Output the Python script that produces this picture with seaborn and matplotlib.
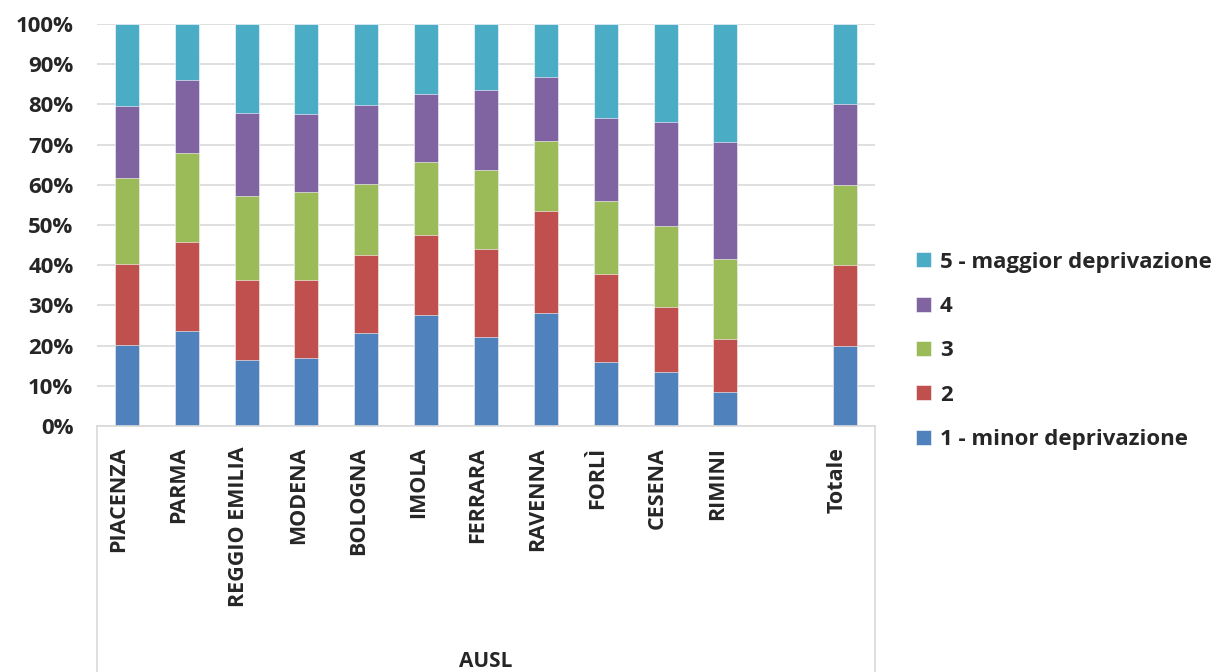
import matplotlib
matplotlib.use("Agg")
import matplotlib.pyplot as plt
from matplotlib.lines import Line2D
from matplotlib.ticker import PercentFormatter, MultipleLocator
from matplotlib.transforms import ScaledTranslation
import numpy as np
import pandas as pd
import seaborn as sns

# AUSL areas (plus overall total), with an empty slot before "Totale"
areas = ["PIACENZA", "PARMA", "REGGIO EMILIA", "MODENA", "BOLOGNA", "IMOLA",
         "FERRARA", "RAVENNA", "FORLÌ", "CESENA", "RIMINI", "Totale"]
slot_order = areas[:-1] + [" "] + ["Totale"]

# Share of population (%) in each deprivation quintile
q1 = [20.1, 23.7, 16.3, 17.0, 23.1, 27.6, 22.2, 28.2, 15.8, 13.4, 8.4, 20.0]
q2 = [20.2, 22.1, 19.9, 19.4, 19.4, 20.0, 21.8, 25.2, 22.1, 16.1, 13.2, 20.0]
q3 = [21.3, 22.2, 21.1, 21.9, 17.8, 18.0, 19.7, 17.6, 18.0, 20.3, 19.9, 20.0]
q4 = [18.0, 18.1, 20.5, 19.2, 19.6, 17.1, 19.9, 15.7, 20.6, 25.9, 29.2, 20.0]
q5 = [20.4, 13.9, 22.2, 22.5, 20.1, 17.3, 16.4, 13.3, 23.5, 24.3, 29.3, 20.0]

quintile_labels = ["1 - minor deprivazione", "2", "3", "4", "5 - maggior deprivazione"]
quintile_colors = ["#4F81BD", "#C0504D", "#9BBB59", "#8064A2", "#4BACC6"]

sns.set_theme(style="white")
plt.rcParams["font.family"] = ["Open Sans", "DejaVu Sans"]

shares = np.array([q1, q2, q3, q4, q5])
totals = shares.sum(axis=0)
cum = np.cumsum(shares / totals * 100.0, axis=0)

df = pd.DataFrame({"AUSL": areas})
for i in range(5):
    df[f"c{i}"] = cum[i]

fig = plt.figure(figsize=(12.13, 6.72), dpi=100)
ax = fig.add_axes([97 / 1213, 1 - 426 / 672, (875 - 97) / 1213, (426 - 24) / 672])

# Stack by overlaying cumulative bars, tallest first
for i in range(4, -1, -1):
    sns.barplot(data=df, x="AUSL", y=f"c{i}", order=slot_order, color=quintile_colors[i],
                width=0.4, saturation=1, label=quintile_labels[i], ax=ax,
                edgecolor="white", linewidth=0.4)

ax.set_ylim(0, 100)
ax.yaxis.set_major_locator(MultipleLocator(10))
ax.yaxis.set_major_formatter(PercentFormatter(decimals=0))
ax.grid(axis="y", color="#d9d9d9", linewidth=1.2)
ax.set_axisbelow(True)
for s in ["left", "right", "top"]:
    ax.spines[s].set_visible(False)
ax.spines["bottom"].set_color("#d9d9d9")
ax.spines["bottom"].set_linewidth(1.2)

ax.tick_params(axis="y", length=0, pad=17, labelsize=16)
ax.tick_params(axis="x", length=0, pad=15, labelsize=15.5)
for t in ax.get_yticklabels():
    t.set_fontweight("bold")
shift = ScaledTranslation(-8 / 100, 0, fig.dpi_scale_trans)
for t in ax.get_xticklabels():
    t.set_rotation(90)
    t.set_fontweight("bold")
    t.set_va("top")
    t.set_ha("center")
    t.set_transform(t.get_transform() + shift)

ax.set_ylabel("")
ax.set_xlabel("AUSL", fontsize=15, fontweight="bold", labelpad=0)
ax.xaxis.set_label_coords(0.5, -0.56)

# Frame around the category axis area
for xf in (97 / 1213, 875 / 1213):
    fig.add_artist(Line2D([xf, xf], [0, 1 - 426 / 672], transform=fig.transFigure,
                          color="#d9d9d9", linewidth=1.2))

handles, labels = ax.get_legend_handles_labels()
fig.legend(handles, labels, loc="center left", bbox_to_anchor=(0.739, 0.478),
           frameon=False, prop={"weight": "bold", "size": 16},
           handlelength=0.65, handleheight=0.65, handletextpad=0.4, labelspacing=1.05)
if ax.get_legend() is not None:
    ax.get_legend().remove()

fig.savefig("out.png", dpi=100)
